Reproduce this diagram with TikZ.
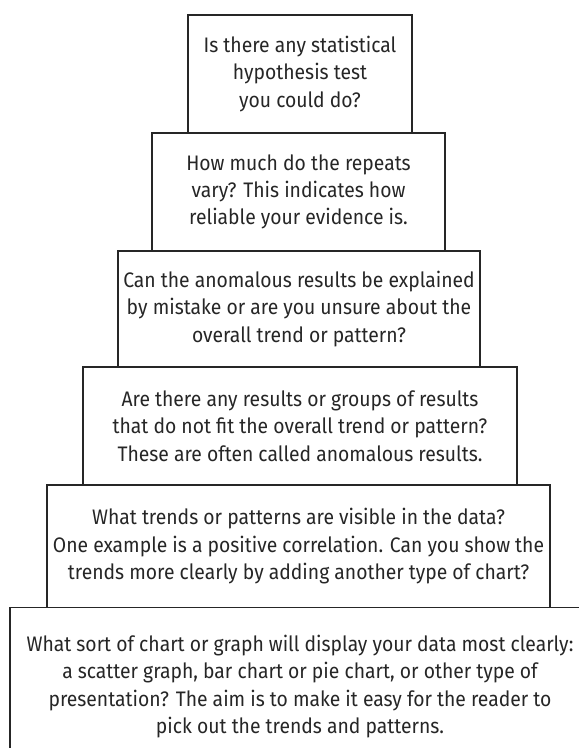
\documentclass[tikz,border=0pt]{standalone}
\usepackage{fontspec}
\setmainfont[FakeStretch=0.92]{Fira Sans}
\definecolor{ink}{HTML}{262626}
\begin{document}
\begin{tikzpicture}[x=1pt,y=-1pt,
  tier/.style={draw=ink, line width=1.8pt, fill=white, text=ink, align=center,
    inner sep=0pt, font=\fontsize{21}{27.3}\selectfont}]
\useasboundingbox (0,0) rectangle (579,748);
\clip (0,0) rectangle (579,748);
\node[tier, minimum width=580pt, minimum height=158pt] (t6) at (300,686.5)
  {What sort of chart or graph will display your data most clearly:\\
   a scatter graph, bar chart or pie chart, or other type of\\
   presentation? The aim is to make it easy for the reader to\\
   pick out the trends and patterns.};
\node[tier, minimum width=503pt, minimum height=122.5pt] (t5) at (298.5,546.25)
  {What trends or patterns are visible in the data?\\
   One example is a positive correlation. Can you show the\\
   trends more clearly by adding another type of chart?};
\node[tier, minimum width=434pt, minimum height=118pt] (t4) at (300,426)
  {Are there any results or groups of results\\
   that do not fit the overall trend or pattern?\\
   These are often called anomalous results.};
\node[tier, minimum width=362pt, minimum height=116pt] (t3) at (299,309)
  {Can the anomalous results be explained\\
   by mistake or are you unsure about the\\
   overall trend or pattern?};
\node[tier, minimum width=293pt, minimum height=118pt] (t2) at (298.5,192)
  {How much do the repeats\\
   vary? This indicates how\\
   reliable your evidence is.};
\node[tier, minimum width=224pt, minimum height=118pt] (t1) at (300,74)
  {Is there any statistical\\
   hypothesis test\\
   you could do?};
\end{tikzpicture}
\end{document}
